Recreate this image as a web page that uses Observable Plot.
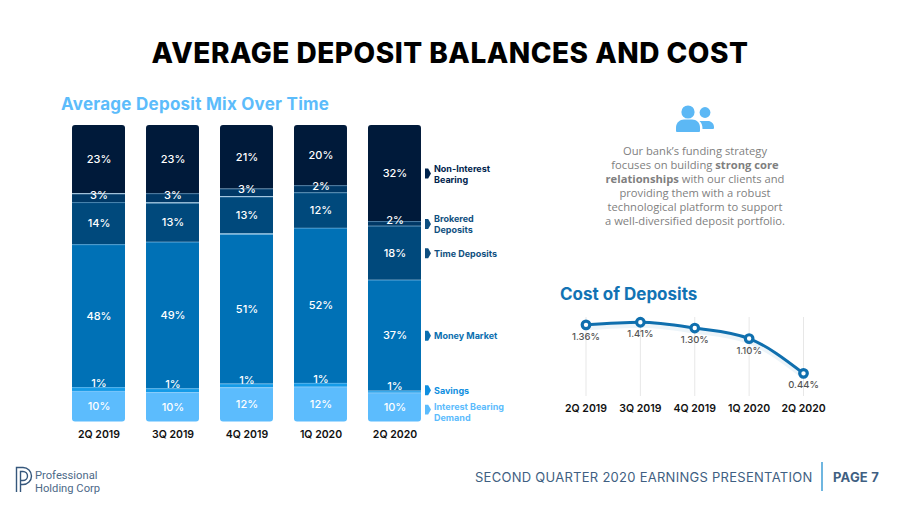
<!DOCTYPE html>
<html><head><meta charset="utf-8">
<script src="https://cdn.jsdelivr.net/npm/d3@7"></script>
<script src="https://cdn.jsdelivr.net/npm/@observablehq/plot@0.6"></script>
<style>
html,body{margin:0;padding:0;background:#fff;width:900px;height:506px;overflow:hidden}
body{position:relative;font-family:Inter,sans-serif}
.t{position:absolute;white-space:nowrap;line-height:1}
.plot{position:absolute}
.plot svg{display:block;background:transparent;overflow:visible}
</style></head><body>
<div class="t" style="left:0;width:900px;text-align:center;top:39px;font-size:28px;font-weight:800;color:#000;letter-spacing:.5px" id="title">AVERAGE DEPOSIT BALANCES AND COST</div>
<div class="t" style="left:61px;top:96px;font-size:17px;font-weight:700;color:#5cbcfb;letter-spacing:.25px">Average Deposit Mix Over Time</div>
<div class="t" style="left:560px;top:286px;font-size:17px;font-weight:700;color:#1273b4">Cost of Deposits</div>
<svg style="position:absolute;left:670px;top:100px" width="50" height="36" viewBox="0 0 50 36">
<circle cx="18" cy="12" r="6.6" fill="#5cb8f5"/><path d="M6 31v-3.5c0-5 4-8 8-8h8c4.500 0 8 3 8 8V31q0 1-1 1H7q-1 0-1-1z" fill="#5cb8f5"/>
<circle cx="35" cy="12.500" r="5.400" fill="#5cb8f5"/><path d="M32 21h6c3 0 6 2.500 6 6v1q0 1-1 1H32.500c0-3-.5-6-3-8z" fill="#5cb8f5"/></svg>
<div class="t" style="left:590px;width:210px;top:144px;text-align:center;white-space:normal;font-family:'Open Sans';font-size:11.2px;line-height:14px;color:#7f7f7f">Our bank’s funding strategy<br>focuses on building <b>strong core<br>relationships</b> with our clients and<br>providing them with a robust<br>technological platform to support<br>a well-diversified deposit portfolio.</div>
<div class="plot" id="mix" style="left:51px;top:115px"></div>
<div class="plot" id="cost" style="left:550px;top:310px"></div>
<svg style="position:absolute;left:14px;top:465px" width="20" height="30" viewBox="0 0 20 30" fill="none" stroke="#35577c" stroke-width="1.400">
<path d="M2.500 27V2.500H9a8.500 8.500 0 0 1 0 17H7"/><path d="M6.500 27V6.500H9a4.500 4.500 0 0 1 0 9H7"/></svg>
<div class="t" style="left:35px;top:470px;font-family:Roboto;font-size:11.200px;line-height:12.500px;color:#4d6a88">Professional<br>Holding Corp</div>
<div class="t" style="left:475px;top:470.500px;font-size:13px;font-weight:400;color:#3f5f82;letter-spacing:.27px" >SECOND QUARTER 2020 EARNINGS PRESENTATION</div>
<div style="position:absolute;left:821px;top:462px;width:2px;height:29px;background:#6fb6e0"></div>
<div class="t" style="left:833px;top:470.500px;font-size:13px;font-weight:700;color:#3f5f82;letter-spacing:.2px">PAGE 7</div>
<script>
const quarters = ["2Q 2019","3Q 2019","4Q 2019","1Q 2020","2Q 2020"];
const seriesNames = ["Interest Bearing Demand","Savings","Money Market","Time Deposits","Brokered Deposits","Non-Interest Bearing"];
const seriesColors = ["#5cbcfd","#149be8","#0071b6","#00497c","#003866","#001a3a"];
const interestBearing = [10.3, 9.9, 11.5, 11.7, 9.7];
const savings = [1.3, 1.3, 1.3, 1.3, 0.7];
const moneyMarket = [48.2, 49.4, 50.6, 52.3, 37.4];
const timeDeposits = [14.2, 13.3, 12.6, 12.0, 18.2];
const brokered = [3.0, 3.1, 2.6, 2.4, 1.6];
const nonInterest = [23.0, 23.0, 21.4, 20.3, 32.4];
const costOfDeposits = [1.36, 1.41, 1.30, 1.10, 0.44];
const legendLines = [["Interest Bearing","Demand"],["Savings"],["Money Market"],["Time Deposits"],["Brokered","Deposits"],["Non-Interest","Bearing"]];
const legendColors = ["#5cbcfd","#0f8fe0","#0b6fb0","#0f4f80","#0f4f80","#00234d"];

const valuesBySeries = [interestBearing,savings,moneyMarket,timeDeposits,brokered,nonInterest];
const rows = [];
quarters.forEach((q,i)=>{
  let base = 0;
  seriesNames.forEach((s,j)=>{
    const v = valuesBySeries[j][i];
    rows.push({quarter:q, series:s, value:v, y1:base, y2:base+v, mid:base+v/2, idx:j});
    base += v;
  });
});
const font = "Inter, sans-serif";
const brightLines = new Set(["2Q 2019|Brokered Deposits","3Q 2019|Time Deposits","4Q 2019|Time Deposits","4Q 2019|Money Market"]);
const homePlate = {draw(c,size){const r=Math.sqrt(size);c.moveTo(-r*.3,-r*.5);c.lineTo(r*.02,-r*.5);c.lineTo(r*.3,0);c.lineTo(r*.02,r*.5);c.lineTo(-r*.3,r*.5);c.closePath();}};
const last = rows.filter(d=>d.quarter===quarters[4]);
const barOpts = {x:"quarter",y1:"y1",y2:"y2",fill:"series"};
const labelOpts = {x:"quarter",y:"mid",text:d=>Math.round(d.value)+"%",fill:"#fff",fontSize:11,fontWeight:500};
const legendMark = {x:"quarter",y:"mid",text:d=>legendLines[d.idx].join("\n"),fill:d=>legendColors[d.idx],dx:39,textAnchor:"start",fontSize:9,fontWeight:700,lineHeight:1.240,style:{letterSpacing:".3px"}};
const arrowMark = {x:"quarter",y:"mid",symbol:homePlate,r:5.600,fill:d=>legendColors[d.idx],dx:33};

const mix = Plot.plot({
  width:470, height:330, marginLeft:0, marginRight:79, marginTop:10, marginBottom:23.500,
  style:{fontFamily:font,background:"transparent",overflow:"visible"},
  x:{type:"band",domain:quarters,padding:.284,round:false,label:null,tickSize:0,tickPadding:9},
  y:{domain:[0,100],axis:null},
  color:{domain:seriesNames,range:seriesColors},
  marks:[
    Plot.barY(rows,{...barOpts,filter:d=>d.idx>0&&d.idx<5}),
    Plot.barY(rows,{...barOpts,filter:d=>d.idx===5,ry1:3}),
    Plot.barY(rows,{...barOpts,filter:d=>d.idx===0,ry2:3}),
    Plot.tickY(rows,{x:"quarter",y:"y2",filter:d=>d.idx<5,stroke:"#9fd3f5",strokeOpacity:.4,strokeWidth:1}),
    Plot.tickY(rows,{x:"quarter",y:"y2",filter:d=>brightLines.has(d.quarter+"|"+d.series),stroke:"#cfe8fa",strokeOpacity:.8,strokeWidth:1}),
    Plot.text(rows,{...labelOpts,filter:d=>d.idx!==1&&d.idx!==4}),
    Plot.text(rows,{...labelOpts,filter:d=>d.idx===1,dy:-6}),
    Plot.text(rows,{...labelOpts,filter:d=>d.idx===4,dy:-3}),
    Plot.dot(last,{...arrowMark,filter:d=>d.idx>1}),
    Plot.dot(last,{...arrowMark,filter:d=>d.idx===1,dy:-2}),
    Plot.dot(last,{...arrowMark,filter:d=>d.idx===0,dy:2}),
    Plot.text(last,{...legendMark,filter:d=>d.idx>1}),
    Plot.text(last,{...legendMark,filter:d=>d.idx===1,dy:-2}),
    Plot.text(last,{...legendMark,filter:d=>d.idx===0,dy:4})
  ]
});
d3.select(mix).selectAll('g[aria-label="x-axis tick label"] text').attr("font-size",10.500).attr("font-weight",600).attr("fill","#111");
document.getElementById("mix").append(mix);

const costRows = quarters.map((q,i)=>({quarter:q,cost:costOfDeposits[i]}));
const cost = Plot.plot({
  width:290, height:110, marginLeft:35.500, marginRight:37, marginTop:7, marginBottom:24,
  style:{fontFamily:font,background:"transparent",overflow:"visible"},
  x:{type:"point",domain:quarters,padding:0,round:false,label:null,tickSize:0,tickPadding:8},
  y:{domain:[0,1.5],axis:null},
  marks:[
    Plot.gridX(quarters,{stroke:"#e4e4e4",strokeOpacity:.9}),
    Plot.line(costRows,{x:"quarter",y:"cost",curve:"monotone-x",stroke:"#0f6fae",strokeWidth:5,strokeOpacity:.08,dy:3}),
    Plot.line(costRows,{x:"quarter",y:"cost",curve:"monotone-x",stroke:"#0f6fae",strokeWidth:3}),
    Plot.dot(costRows,{x:"quarter",y:"cost",r:3.800,fill:"#fff",stroke:"#0f6fae",strokeWidth:3.200}),
    Plot.text(costRows,{x:"quarter",y:"cost",text:d=>d.cost.toFixed(2)+"%",dy:12,fill:"#555",fontSize:9.500,fontWeight:500})
  ]
});
d3.select(cost).selectAll('g[aria-label="x-axis tick label"] text').attr("font-size",10.500).attr("font-weight",600).attr("fill","#111");
document.getElementById("cost").append(cost);
</script>
</body></html>
